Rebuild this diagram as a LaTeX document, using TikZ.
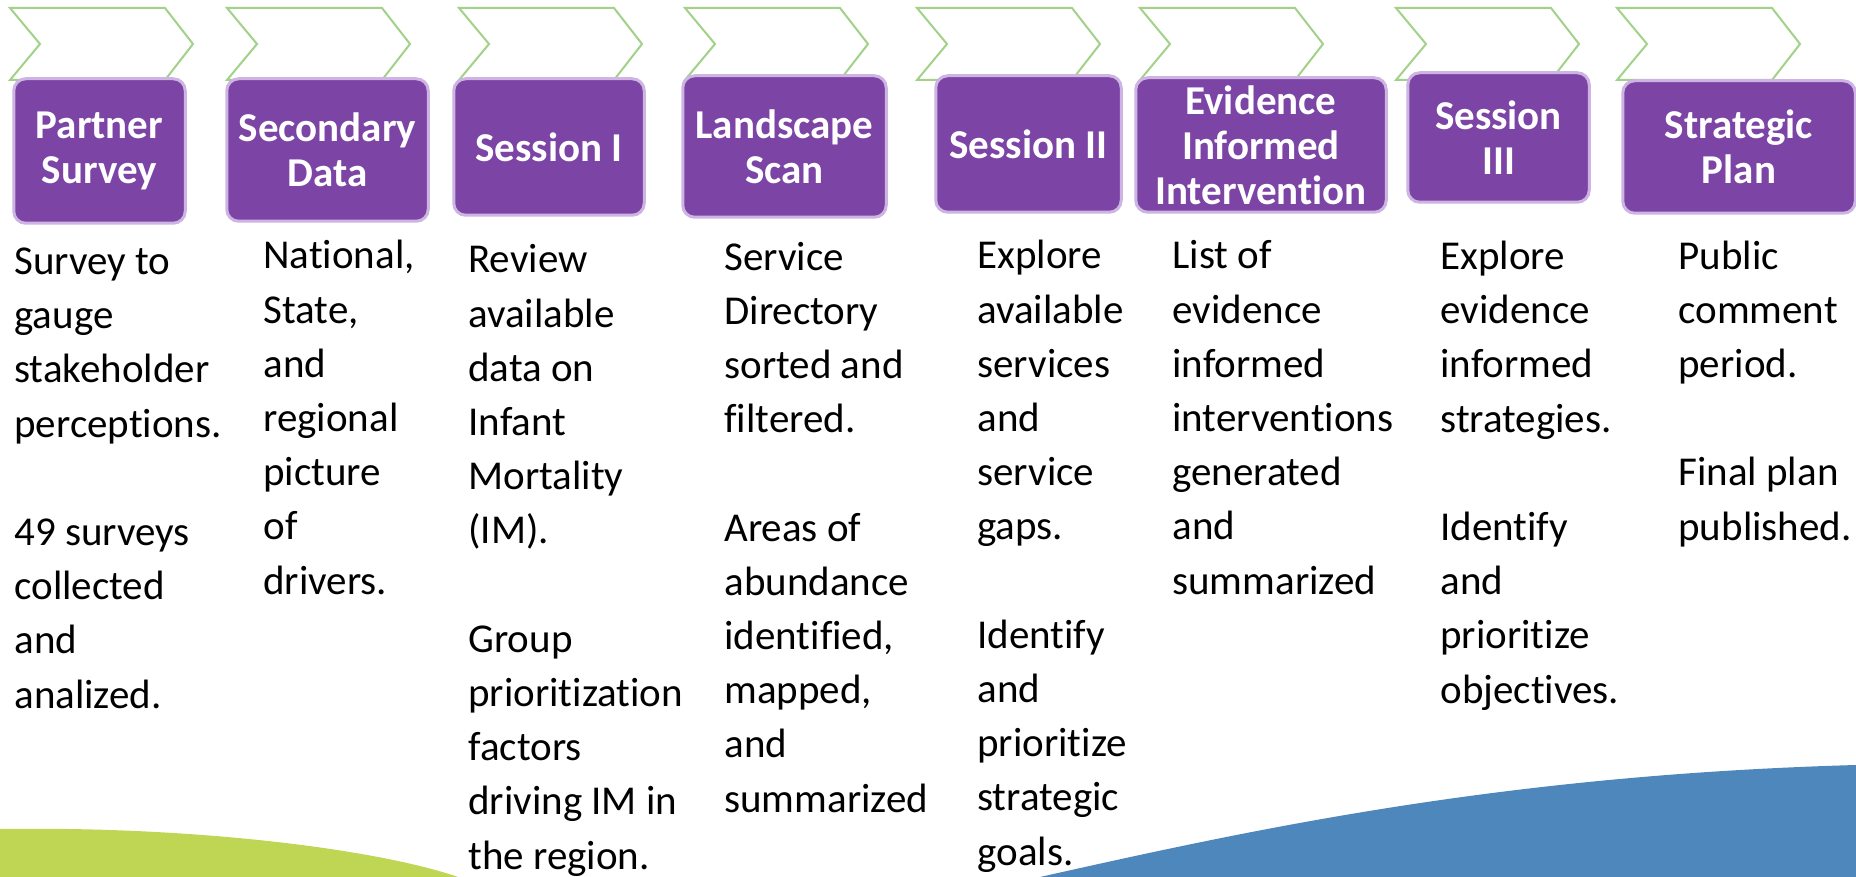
\documentclass[tikz,border=0pt]{standalone}
\usepackage{fontspec}
\setmainfont{Carlito}[Ligatures=NoCommon]
\usetikzlibrary{positioning}
\definecolor{chevgreen}{HTML}{A2D189}
\definecolor{stepfill}{HTML}{7C45A5}
\definecolor{stepedge}{HTML}{CDB4E3}
\definecolor{swooshgreen}{HTML}{BED653}
\definecolor{swooshblue}{HTML}{4E87BC}

\begin{document}
\begin{tikzpicture}[x=0.5pt,y=-0.5pt,
    chevron/.style={draw=chevgreen,line width=1pt},
    stagebox/.style={rounded corners=6pt,fill=stepfill,draw=stepedge,line width=1.5pt,text=white,align=center,inner sep=2pt,font=\fontsize{20.5}{22.5}\selectfont\bfseries},
    stagetext/.style={anchor=base west,align=left,inner sep=0pt,font=\fontsize{20.5}{27.1}\selectfont}]
        \useasboundingbox (0,0) rectangle (1856,877);

        % swooshes along the bottom edge
        \fill[swooshgreen] (0,829) .. controls (200,826) and (380,850) .. (458,877) -- (0,877) -- cycle;
        \fill[swooshblue] (1040,877) .. controls (1250,830) and (1500,775) .. (1856,765) -- (1856,877) -- cycle;

        % chevron row
        \foreach \x in {10,227,459,685,917,1140,1396,1617}
          \draw[chevron] (\x,8) -- ++(155,0) -- ++(28,36) -- ++(-28,36) -- ++(-155,0) -- ++(30,-36) -- cycle;

        % stage boxes
        \node[stagebox,minimum width=85.75pt,minimum height=72.25pt] (partner) at (99.5,151) {Partner\\Survey};
        \node[stagebox,minimum width=100.75pt,minimum height=71.25pt] (secondary) at (327.5,150) {Secondary\\Data};
        \node[stagebox,minimum width=95.25pt,minimum height=68.25pt] (sessionone) at (549,147) {Session I};
        \node[stagebox,minimum width=101.75pt,minimum height=70.75pt] (landscape) at (784.5,146.5) {Landscape\\Scan};
        \node[stagebox,minimum width=92.75pt,minimum height=68.25pt] (sessiontwo) at (1028.5,144) {Session II};
        \node[stagebox,minimum width=125.25pt,minimum height=67.25pt] (evidence) at (1261,145) {Evidence\\Informed\\Intervention};
        \node[stagebox,minimum width=90.75pt,minimum height=64.75pt] (sessionthree) at (1498.5,137.5) {Session\\III};
        \node[stagebox,minimum width=116.25pt,minimum height=66.25pt] (strategic) at (1739,147) {Strategic\\Plan};

        % what happens in each stage (placed by the baseline of the last line)
        \node[stagetext] (surveytext) at (14,708) {Survey to\\gauge\\stakeholder\\perceptions.\\~\\49 surveys\\collected\\and\\analized.};
        \node[stagetext] (datatext) at (263,594) {National,\\State,\\and\\regional\\picture\\of\\drivers.};
        \node[stagetext] (reviewtext) at (468,869) {Review\\available\\data on\\Infant\\Mortality\\(IM).\\~\\Group\\prioritization\\factors\\driving IM in\\the region.};
        \node[stagetext] (scantext) at (724,812) {Service\\Directory\\sorted and\\filtered.\\~\\Areas of\\abundance\\identified,\\mapped,\\and\\summarized};
        \node[stagetext] (gapstext) at (977,865) {Explore\\available\\services\\and\\service\\gaps.\\~\\Identify\\and\\prioritize\\strategic\\goals.};
        \node[stagetext] (listtext) at (1172,594) {List of\\evidence\\informed\\interventions\\generated\\and\\summarized};
        \node[stagetext] (objectivetext) at (1440,703) {Explore\\evidence\\informed\\strategies.\\~\\Identify\\and\\prioritize\\objectives.};
        \node[stagetext] (plantext) at (1678,540) {Public\\comment\\period.\\~\\Final plan\\published.};
      \end{tikzpicture}
\end{document}
